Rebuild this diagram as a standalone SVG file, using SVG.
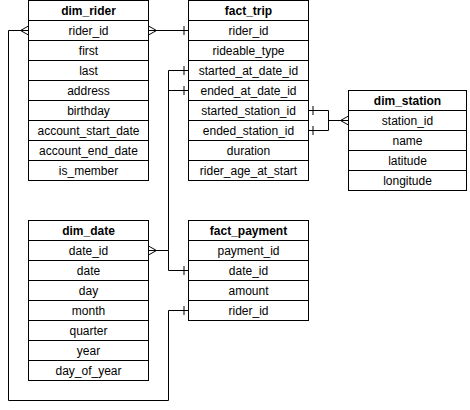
<svg xmlns="http://www.w3.org/2000/svg" width="470" height="410" viewBox="0 0 470 410">
<style>
.box{fill:#fff;stroke:#000;stroke-width:1}
.sep{stroke:#000;stroke-width:1}
text{font-family:"Liberation Sans",Arial,Helvetica,sans-serif;font-size:12px;fill:#000;text-anchor:middle}
.h{font-weight:bold}
.c{fill:none;stroke:#000;stroke-width:1}
</style>
<defs>
<marker id="many" markerUnits="userSpaceOnUse" markerWidth="12" markerHeight="12" refX="0" refY="0" orient="auto-start-reverse" overflow="visible" viewBox="-10 -6 12 12">
<path d="M-8,0 L0,-4.5 M-8,0 L0,0 M-8,0 L0,4.5" fill="none" stroke="#000" stroke-width="1"/>
</marker>
<marker id="one" markerUnits="userSpaceOnUse" markerWidth="12" markerHeight="12" refX="0" refY="0" orient="auto-start-reverse" overflow="visible" viewBox="-10 -6 12 12">
<path d="M-4.5,-4.5 V4.5" fill="none" stroke="#000" stroke-width="1"/>
</marker>
</defs>
<g id="connectors">
<path class="c" d="M148.5,30.5 H188.5" marker-start="url(#many)" marker-end="url(#one)"/>
<path class="c" d="M28.5,30.5 H8.5 V400.5 H168.5 V310.5 H188.5" marker-start="url(#many)" marker-end="url(#one)"/>
<path class="c" d="M148.5,250.5 H168.5 V70.5 H188.5" marker-start="url(#many)" marker-end="url(#one)"/>
<path class="c" d="M168.5,90.5 H188.5" marker-end="url(#one)"/>
<path class="c" d="M168.5,250.5 V270.5 H188.5" marker-end="url(#one)"/>
<path class="c" d="M308.5,110.5 H328.5 V130.5 H308.5" marker-start="url(#one)" marker-end="url(#one)"/>
<path class="c" d="M328.5,120.5 H348.5" marker-end="url(#many)"/>
</g>
<g id="dim_rider">
<rect class="box" x="28.5" y="0.5" width="120" height="180"/>
<path class="sep" d="M28.5,20.5H148.5M28.5,40.5H148.5M28.5,60.5H148.5M28.5,80.5H148.5M28.5,100.5H148.5M28.5,120.5H148.5M28.5,140.5H148.5M28.5,160.5H148.5"/>
<text class="h" x="88.5" y="15">dim_rider</text>
<text x="88.5" y="35">rider_id</text>
<text x="88.5" y="55">first</text>
<text x="88.5" y="75">last</text>
<text x="88.5" y="95">address</text>
<text x="88.5" y="115">birthday</text>
<text x="88.5" y="135">account_start_date</text>
<text x="88.5" y="155">account_end_date</text>
<text x="88.5" y="175">is_member</text>
</g>
<g id="fact_trip">
<rect class="box" x="188.5" y="0.5" width="120" height="180"/>
<path class="sep" d="M188.5,20.5H308.5M188.5,40.5H308.5M188.5,60.5H308.5M188.5,80.5H308.5M188.5,100.5H308.5M188.5,120.5H308.5M188.5,140.5H308.5M188.5,160.5H308.5"/>
<text class="h" x="248.5" y="15">fact_trip</text>
<text x="248.5" y="35">rider_id</text>
<text x="248.5" y="55">rideable_type</text>
<text x="248.5" y="75">started_at_date_id</text>
<text x="248.5" y="95">ended_at_date_id</text>
<text x="248.5" y="115">started_station_id</text>
<text x="248.5" y="135">ended_station_id</text>
<text x="248.5" y="155">duration</text>
<text x="248.5" y="175">rider_age_at_start</text>
</g>
<g id="dim_station">
<rect class="box" x="348.5" y="90.5" width="118" height="100"/>
<path class="sep" d="M348.5,110.5H466.5M348.5,130.5H466.5M348.5,150.5H466.5M348.5,170.5H466.5"/>
<text class="h" x="407.5" y="105">dim_station</text>
<text x="407.5" y="125">station_id</text>
<text x="407.5" y="145">name</text>
<text x="407.5" y="165">latitude</text>
<text x="407.5" y="185">longitude</text>
</g>
<g id="dim_date">
<rect class="box" x="28.5" y="220.5" width="120" height="160"/>
<path class="sep" d="M28.5,240.5H148.5M28.5,260.5H148.5M28.5,280.5H148.5M28.5,300.5H148.5M28.5,320.5H148.5M28.5,340.5H148.5M28.5,360.5H148.5"/>
<text class="h" x="88.5" y="235">dim_date</text>
<text x="88.5" y="255">date_id</text>
<text x="88.5" y="275">date</text>
<text x="88.5" y="295">day</text>
<text x="88.5" y="315">month</text>
<text x="88.5" y="335">quarter</text>
<text x="88.5" y="355">year</text>
<text x="88.5" y="375">day_of_year</text>
</g>
<g id="fact_payment">
<rect class="box" x="188.5" y="220.5" width="120" height="100"/>
<path class="sep" d="M188.5,240.5H308.5M188.5,260.5H308.5M188.5,280.5H308.5M188.5,300.5H308.5"/>
<text class="h" x="248.5" y="235">fact_payment</text>
<text x="248.5" y="255">payment_id</text>
<text x="248.5" y="275">date_id</text>
<text x="248.5" y="295">amount</text>
<text x="248.5" y="315">rider_id</text>
</g>
</svg>
